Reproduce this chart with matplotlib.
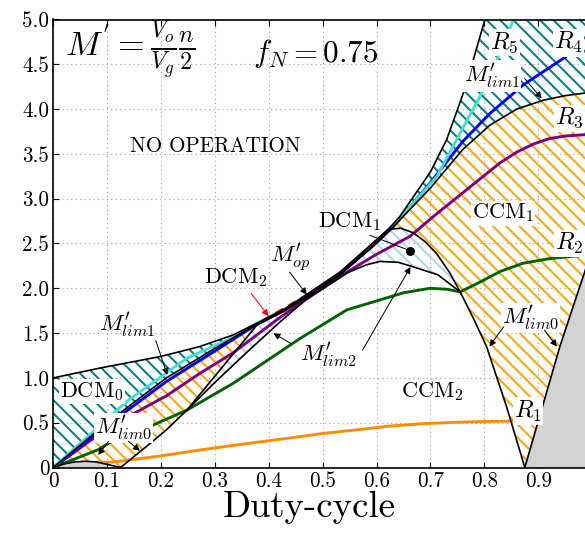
import numpy as np
import matplotlib
matplotlib.use("Agg")
import matplotlib.pyplot as plt

plt.rcParams['font.family'] = ['cmr10', 'DejaVu Serif']
plt.rcParams['mathtext.fontset'] = 'cm'
plt.rcParams['axes.unicode_minus'] = False
plt.rcParams['hatch.linewidth'] = 1.8

# boundary curves (duty-cycle, M')
upper_x = [0, 0.087, 0.2, 0.272, 0.334, 0.378, 0.43, 0.47, 0.532, 0.594, 0.625, 0.643, 0.668, 0.70, 0.73, 0.764, 0.801]
upper_y = [1.0, 1.11, 1.24, 1.35, 1.48, 1.61, 1.77, 1.93, 2.18, 2.51, 2.68, 2.80, 3.02, 3.30, 3.66, 4.23, 5.0]

lim1_x = [0, 0.1, 0.21, 0.3, 0.378, 0.43, 0.47, 0.532, 0.594, 0.63, 0.70, 0.76, 0.81, 0.86, 0.91, 0.95, 1.0]
lim1_y = [0, 0.5, 1.0, 1.33, 1.6, 1.76, 1.91, 2.16, 2.48, 2.68, 3.12, 3.55, 3.82, 4.0, 4.1, 4.15, 4.19]

dcm_top_x = [0.248, 0.30, 0.378, 0.43, 0.47, 0.532, 0.594, 0.625, 0.645, 0.668, 0.69, 0.711, 0.736, 0.755]
dcm_top_y = [0.64, 1.02, 1.59, 1.75, 1.90, 2.15, 2.47, 2.66, 2.67, 2.62, 2.52, 2.39, 2.17, 1.96]

lim2_x = [0.248, 0.30, 0.36, 0.42, 0.47, 0.545, 0.58, 0.606, 0.64, 0.668, 0.714, 0.755]
lim2_y = [0.64, 0.95, 1.29, 1.62, 1.88, 2.17, 2.26, 2.30, 2.29, 2.24, 2.15, 1.96]

bump_x = [0, 0.02, 0.04, 0.06, 0.08, 0.1, 0.125]
bump_y = [0, 0.04, 0.062, 0.07, 0.062, 0.035, 0]

lim0a_x = [0.125, 0.172, 0.21, 0.248]
lim0a_y = [0, 0.23, 0.42, 0.64]

lim0b_x = [0.755, 0.78, 0.804, 0.841, 0.875]
lim0b_y = [1.96, 1.66, 1.35, 0.68, 0]

lim0c_x = [0.875, 0.94, 0.987, 1.0]
lim0c_y = [0, 1.35, 2.2, 2.45]

# operating curves R1..R5 and M'op
r5_x = [0, 0.05, 0.1, 0.139, 0.167, 0.248, 0.322, 0.378, 0.43, 0.47, 0.532, 0.594, 0.625, 0.674, 0.712, 0.761, 0.798, 0.823, 0.854]
r5_y = [0, 0.27, 0.54, 0.75, 0.87, 1.22, 1.42, 1.61, 1.77, 1.92, 2.17, 2.5, 2.66, 2.99, 3.25, 3.8, 4.21, 4.55, 5.0]

r4_x = [0, 0.1, 0.21, 0.3, 0.378, 0.43, 0.47, 0.532, 0.594, 0.63, 0.70, 0.76, 0.81, 0.872, 0.95]
r4_y = [0, 0.47, 0.96, 1.30, 1.60, 1.76, 1.91, 2.16, 2.48, 2.68, 3.18, 3.64, 3.95, 4.27, 4.58]

r3_x = [0, 0.087, 0.149, 0.21, 0.272, 0.334, 0.415, 0.47, 0.545, 0.6, 0.662, 0.705, 0.767, 0.829, 0.86, 0.891, 0.92, 0.95, 1.0]
r3_y = [0, 0.38, 0.6, 0.8, 1.05, 1.28, 1.65, 1.88, 2.18, 2.38, 2.58, 2.80, 3.10, 3.40, 3.52, 3.61, 3.67, 3.70, 3.72]

r2_x = [0, 0.084, 0.105, 0.18, 0.248, 0.334, 0.458, 0.545, 0.606, 0.65, 0.699, 0.73, 0.755, 0.792, 0.83, 0.872, 0.92, 1.0]
r2_y = [0, 0.2, 0.28, 0.46, 0.64, 0.94, 1.44, 1.76, 1.87, 1.95, 2.0, 1.99, 1.96, 2.07, 2.19, 2.28, 2.33, 2.38]

r1_x = [0.085, 0.11, 0.15, 0.2, 0.272, 0.35, 0.44, 0.5, 0.563, 0.62, 0.687, 0.75, 0.81, 0.903]
r1_y = [0.06, 0.06, 0.09, 0.13, 0.195, 0.26, 0.33, 0.38, 0.42, 0.46, 0.49, 0.505, 0.515, 0.52]

op_x = [0.39, 0.43, 0.47, 0.532, 0.594, 0.625]
op_y = [1.64, 1.78, 1.92, 2.17, 2.5, 2.66]

xticks = [0, 0.1, 0.2, 0.3, 0.4, 0.5, 0.6, 0.7, 0.8, 0.9]
xtick_labels = ['0', '0.1', '0.2', '0.3', '0.4', '0.5', '0.6', '0.7', '0.8', '0.9']
yticks = [0, 0.5, 1.0, 1.5, 2.0, 2.5, 3.0, 3.5, 4.0, 4.5, 5.0]
ytick_labels = ['0', '0.5', '1.0', '1.5', '2.0', '2.5', '3.0', '3.5', '4.0', '4.5', '5.0']

fig = plt.figure(figsize=(585 / 80, 533 / 80), dpi=80)
ax = fig.add_axes([53.2 / 585, 1 - 467.5 / 533, 539 / 585, 448 / 533])
ax.set_xlim(0, 1)
ax.set_ylim(0, 5)
ax.set_axisbelow(True)
ax.grid(True, linestyle=(0, (1, 3)), color='#a0a0a0', linewidth=1.0)

rev = lambda a: list(a)[::-1]

# DCM0 region (teal)
px = upper_x + [1.0] + rev(lim1_x)
py = upper_y + [5.0] + rev(lim1_y)
ax.fill(px, py, facecolor='none', edgecolor='teal', hatch='\\\\', linewidth=0)

# CCM1 region (orange)
px = lim1_x + rev(lim0c_x) + rev(lim0b_x) + rev(dcm_top_x) + rev(lim0a_x) + rev(bump_x)
py = lim1_y + rev(lim0c_y) + rev(lim0b_y) + rev(dcm_top_y) + rev(lim0a_y) + rev(bump_y)
ax.fill(px, py, facecolor='none', edgecolor='orange', hatch='\\\\', linewidth=0)

# DCM1 / DCM2 region (light blue)
px = dcm_top_x + rev(lim2_x)
py = dcm_top_y + rev(lim2_y)
ax.fill(px, py, facecolor='none', edgecolor='lightblue', hatch='\\\\', linewidth=0)

# no-operation grey areas
ax.fill(bump_x[:-1] + [0.1], bump_y[:-1] + [0], color='lightgray', linewidth=0)
ax.fill(lim0c_x + [1.0], lim0c_y + [0], color='lightgray', linewidth=0)

lw_c = 2.6
ax.plot(r1_x, r1_y, color='darkorange', lw=lw_c)
ax.plot(r2_x, r2_y, color='darkgreen', lw=lw_c)
ax.plot(r3_x, r3_y, color='purple', lw=lw_c)
ax.plot(r4_x, r4_y, color='blue', lw=lw_c)
ax.plot(r5_x, r5_y, color='turquoise', lw=lw_c)
ax.plot(op_x, op_y, color='red', lw=lw_c, linestyle=(0, (3, 2)))

for bx, by in [(upper_x, upper_y), (lim1_x, lim1_y), (dcm_top_x, dcm_top_y), (lim2_x, lim2_y),
               (bump_x, bump_y), (lim0a_x, lim0a_y), (lim0b_x, lim0b_y), (lim0c_x, lim0c_y)]:
    ax.plot(bx, by, color='black', lw=1.5)

box = dict(facecolor='white', edgecolor='none', pad=1)
arr = dict(arrowstyle='-|>', color='black', lw=0.9, mutation_scale=12)

ax.text(0.022, 4.59, r"$M^{'} = \frac{V_o}{V_g}\frac{n}{2}$", fontsize=31, ha='left', va='baseline')
ax.text(0.371, 4.525, r"$f_N = 0.75$", fontsize=28, ha='left', va='baseline')
ax.text(0.30, 3.58, "NO OPERATION", fontsize=19, ha='center', va='center')
ax.text(0.072, 0.85, r"DCM$_0$", fontsize=20, ha='center', va='center', bbox=box)
ax.text(0.55, 2.74, r"DCM$_1$", fontsize=20, ha='center', va='center')
ax.text(0.338, 2.12, r"DCM$_2$", fontsize=20, ha='center', va='center')
ax.text(0.835, 2.84, r"CCM$_1$", fontsize=20, ha='center', va='center', bbox=box)
ax.text(0.703, 0.85, r"CCM$_2$", fontsize=20, ha='center', va='center')
ax.text(0.44, 2.35, r"$M^{\prime}_{op}$", fontsize=21, ha='center', va='center')
ax.text(0.51, 1.26, r"$M^{\prime}_{lim2}$", fontsize=21, ha='center', va='center')
ax.text(0.137, 1.60, r"$M^{\prime}_{lim1}$", fontsize=21, ha='center', va='center')
ax.text(0.13, 0.44, r"$M^{\prime}_{lim0}$", fontsize=21, ha='center', va='center', bbox=box)
ax.text(0.814, 4.37, r"$M^{\prime}_{lim1}$", fontsize=21, ha='center', va='center', bbox=box)
ax.text(0.885, 1.67, r"$M^{\prime}_{lim0}$", fontsize=21, ha='center', va='center', bbox=box)
for lab, tx, ty in [("$R_1$", 0.881, 0.63), ("$R_2$", 0.958, 2.5), ("$R_3$", 0.958, 3.90),
                    ("$R_4$", 0.956, 4.74), ("$R_5$", 0.837, 4.74)]:
    ax.text(tx, ty, lab, fontsize=22, ha='center', va='center', bbox=box)

ax.annotate('', xy=(0.909, 4.10), xytext=(0.872, 4.36), arrowprops=arr)
ax.annotate('', xy=(0.213, 1.01), xytext=(0.189, 1.44), arrowprops=arr)
ax.annotate('', xy=(0.081, 0.12), xytext=(0.105, 0.31), arrowprops=arr)
ax.annotate('', xy=(0.164, 0.17), xytext=(0.136, 0.31), arrowprops=arr)
ax.annotate('', xy=(0.807, 1.33), xytext=(0.838, 1.59), arrowprops=arr)
ax.annotate('', xy=(0.937, 1.33), xytext=(0.909, 1.55), arrowprops=arr)
ax.annotate('', xy=(0.665, 2.26), xytext=(0.572, 1.29), arrowprops=arr)
ax.annotate('', xy=(0.405, 1.51), xytext=(0.445, 1.37), arrowprops=arr)
ax.annotate('', xy=(0.473, 1.91), xytext=(0.436, 2.20), arrowprops=arr)
ax.annotate('', xy=(0.402, 1.67), xytext=(0.365, 1.96),
            arrowprops=dict(arrowstyle='-|>', color='red', lw=0.9, mutation_scale=12))
ax.plot([0.588, 0.662], [2.59, 2.42], color='black', lw=0.9)
ax.plot([0.662], [2.42], 'o', color='black', markersize=7)

ax.set_xticks(xticks)
ax.set_xticklabels(xtick_labels)
ax.set_yticks(yticks)
ax.set_yticklabels(ytick_labels)
ax.tick_params(labelsize=19, direction='in', top=True, right=True, length=5, width=1)
for s in ax.spines.values():
    s.set_linewidth(1.5)
ax.set_xlabel('Duty-cycle', fontsize=33)
ax.xaxis.set_label_coords(0.475, -0.052)

fig.savefig('out.png', dpi=80)
